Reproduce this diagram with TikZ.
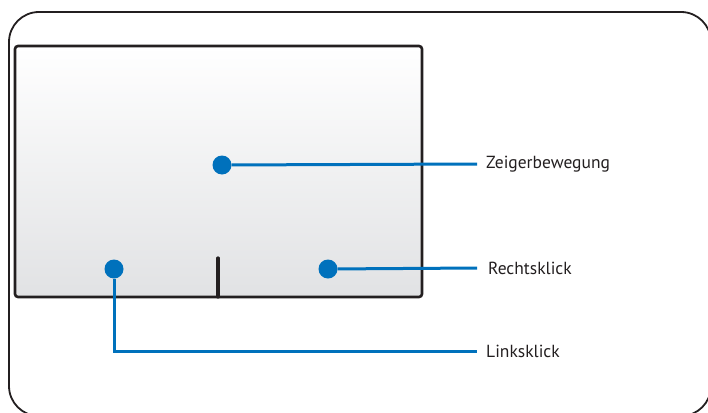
\documentclass[tikz,border=0pt]{standalone}
\usepackage{fontspec}
\setmainfont{PT Sans}
\usepackage{tikz}
\usetikzlibrary{positioning, arrows.meta}
\definecolor{tInk}{HTML}{231F20}
\definecolor{tBlue}{HTML}{0071BC}
\definecolor{tGray}{HTML}{E1E2E4}

\begin{document}
\begin{tikzpicture}[x=1pt, y=-1pt,
  frame/.style={draw=tInk, line width=1.8pt},
  dot/.style={circle, fill=tBlue, minimum size=19pt, inner sep=0pt},
  lead/.style={draw=tBlue, line width=3pt},
  lbl/.style={anchor=west, inner xsep=9pt, inner ysep=0pt, text=tInk, font=\fontsize{17.5}{20}\selectfont}]
  \useasboundingbox (0,0) rectangle (708,412);
  \clip (0,0) rectangle (708,412);
  \draw[frame, rounded corners=30pt] (9,12) rectangle (711,416);
  % touchpad
  \shade[top color=white, middle color=white, bottom color=tGray, rounded corners=3pt] (15,46) rectangle (422,297);
  \draw[frame, line width=2.6pt, rounded corners=3pt] (15,46) rectangle (422,297);
  \draw[tInk, line width=3.2pt, line cap=round] (218,258) -- (218,297);
  % points and labels
  \node[dot] (ptr) at (222,165) {};
  \node[dot] (lclick) at (114,269) {};
  \node[dot] (rclick) at (328,269) {};
  \node[lbl] (ptrlbl) at (477,164) {Zeigerbewegung};
  \node[lbl, inner xsep=11pt] (rlbl) at (477,268) {Rechtsklick};
  \node[lbl] (llbl) at (477,351) {Linksklick};
  \draw[lead] (ptr) -- (ptrlbl.west);
  \draw[lead] (rclick) -- (rlbl.west);
  \draw[lead] (lclick) |- (llbl.west);
\end{tikzpicture}
\end{document}
